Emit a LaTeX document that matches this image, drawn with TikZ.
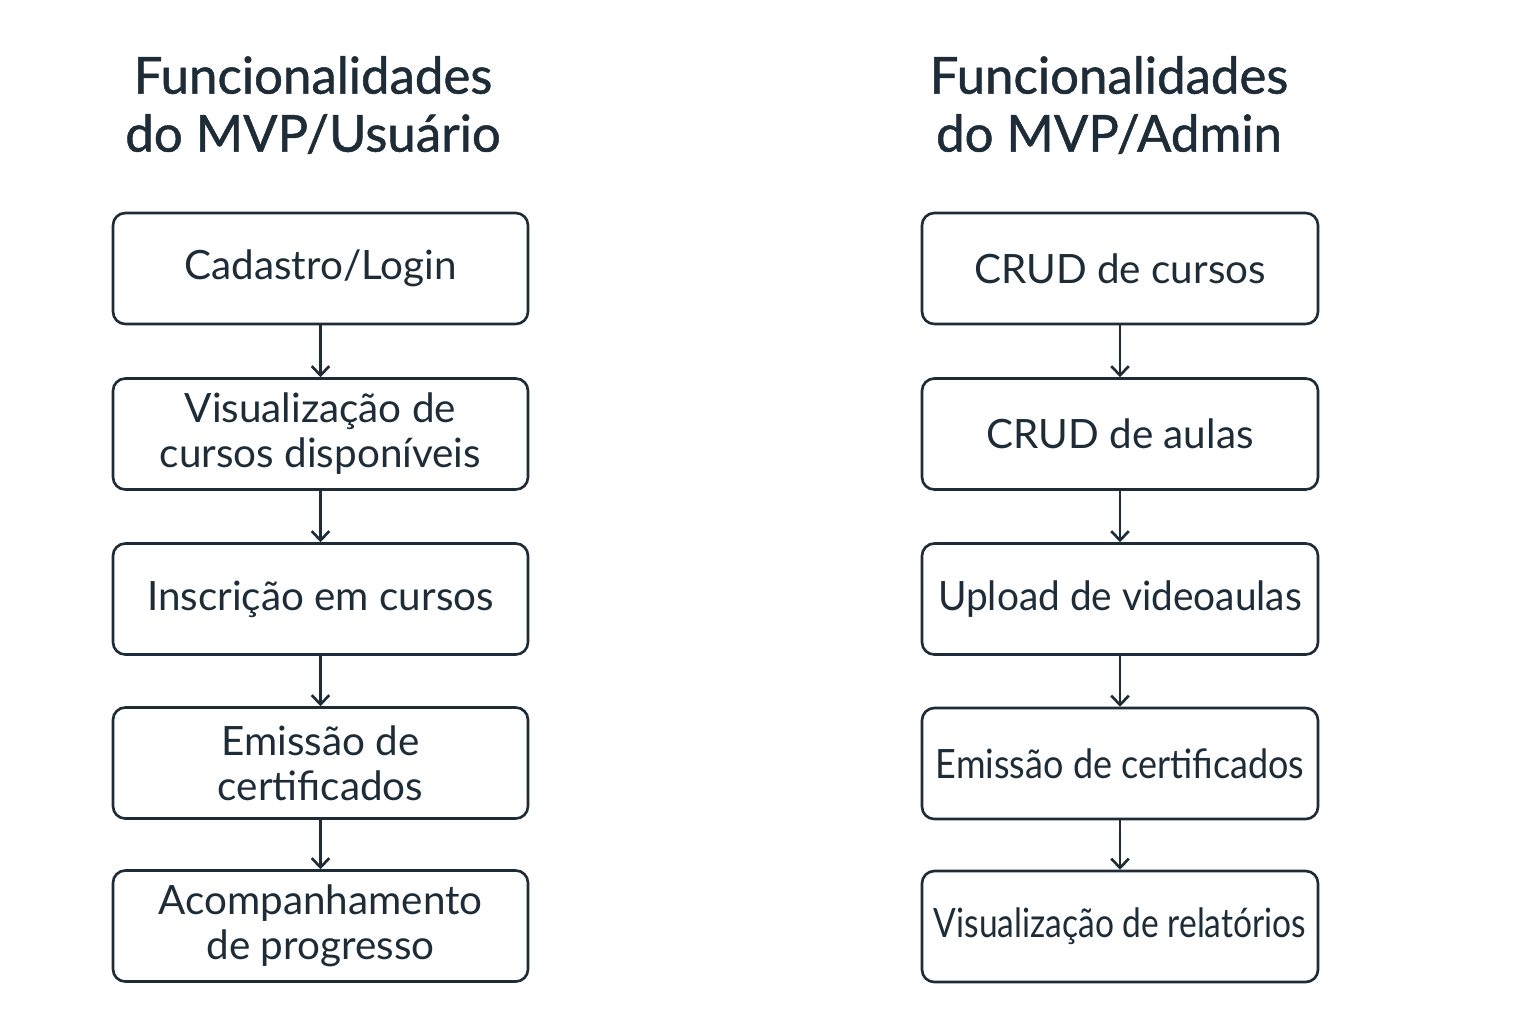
\documentclass[tikz,border=0pt]{standalone}
\usepackage{fontspec}
\setmainfont{Lato}
\newfontfamily\titlefont{Lato}[FakeBold=1]
\usepackage{graphicx}
\usepackage{tikz}
\usetikzlibrary{positioning,arrows.meta}
\definecolor{ink}{HTML}{1E2C38}

\begin{document}
\begin{tikzpicture}
	[   fnode/.style={draw=ink,line width=0.75pt,rounded corners=3.5pt,fill=white,minimum width=#1,minimum height=1.11cm,align=center,text=ink,inner sep=1pt,font=\fontsize{11.5}{12.8}\selectfont},
	    title/.style={text=ink,align=center,font=\titlefont\fontsize{14.5}{16.5}\selectfont},
	]
	\tikzset{flow arrow/.style={draw=ink,line width=0.75pt,-{Straight Barb[length=2.6pt,width=5pt,line width=0.75pt]}}}
	\useasboundingbox (0,0) rectangle (15.36,-10.24);
	
	\node[title] (t-u) at (3.13,-1.05) {Funcionalidades\\do MVP/Usuário};
	\node[title] (t-a) at (11.09,-1.05) {Funcionalidades\\do MVP/Admin};
	
	% coluna do usuario
	\node[fnode=4.15cm] (u-1) at (3.205,-2.685) {Cadastro/Login};
	\node[fnode=4.15cm] (u-2) at (3.205,-4.34) {Visualização de\\cursos disponíveis};
	\node[fnode=4.15cm] (u-3) at (3.205,-5.99) {Inscrição em cursos};
	\node[fnode=4.15cm] (u-4) at (3.205,-7.63) {Emissão de\\certificados};
	\node[fnode=4.15cm] (u-5) at (3.205,-9.26) {Acompanhamento\\de progresso};
	
	% coluna do admin
	\node[fnode=3.96cm] (a-1) at (11.2,-2.685) {CRUD de cursos};
	\node[fnode=3.96cm] (a-2) at (11.2,-4.34) {CRUD de aulas};
	\node[fnode=3.96cm] (a-3) at (11.2,-5.99) {\scalebox{0.96}[1]{Upload de videoaulas}};
	\node[fnode=3.96cm] (a-4) at (11.2,-7.635) {\scalebox{0.89}[1]{Emissão de certificados}};
	\node[fnode=3.96cm] (a-5) at (11.2,-9.265) {\scalebox{0.83}[1]{Visualização de relatórios}};
	
	\foreach \x [evaluate=\x as \y using int(\x+1)] in {1,...,4}
	{
		\path[flow arrow] (u-\x) -- (u-\y);
		\path[flow arrow] (a-\x) -- (a-\y);
	}
\end{tikzpicture}
\end{document}
